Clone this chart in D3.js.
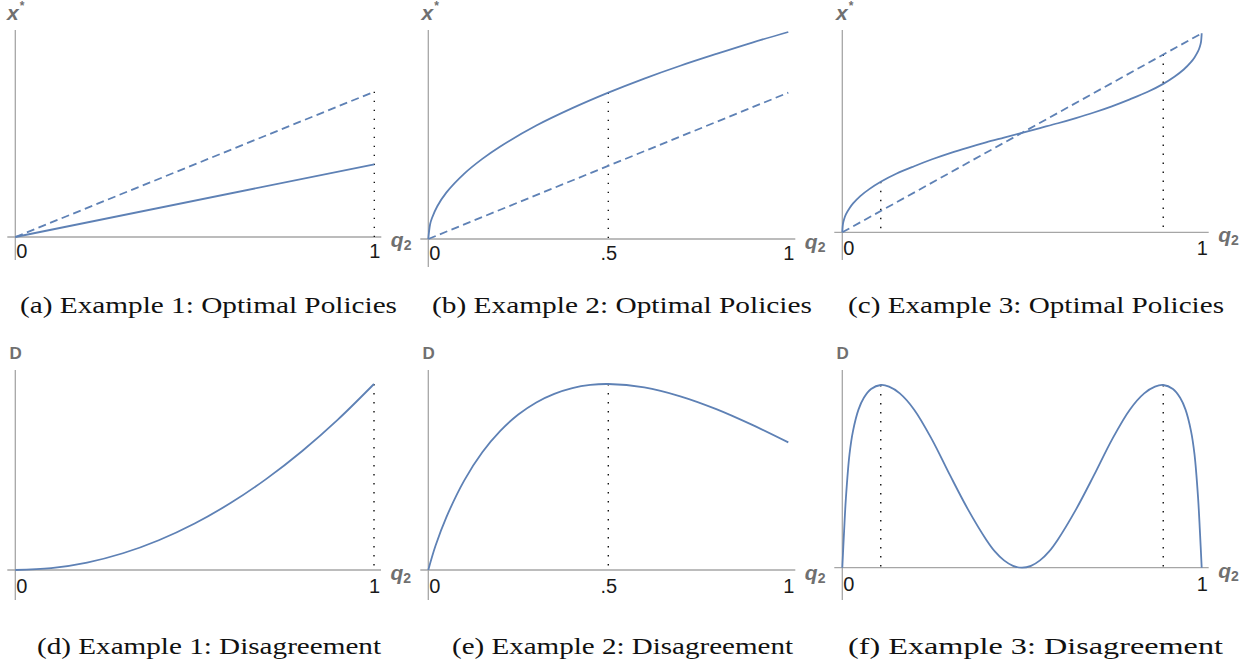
<!DOCTYPE html>
<html>
<head>
<meta charset="utf-8">
<script src="https://cdn.jsdelivr.net/npm/d3@7"></script>
<style>
  body { margin: 0; background: #fff; }
  svg { display: block; }
</style>
</head>
<body>
<div id="chart"></div>
<script>
// ---- data ----
// (a) example 1, policies
const qA = [0, 1]
const solidA = [0, 0.351]
const dashA = [0, 0.702]
// (b) example 2, policies
const qB = [0, 0.005, 0.01, 0.025, 0.05, 0.1, 0.15, 0.2, 0.3, 0.4, 0.5, 0.6, 0.7, 0.8, 0.9, 1]
const solidB = [0, 0.071, 0.1, 0.158, 0.224, 0.316, 0.387, 0.447, 0.548, 0.632, 0.707, 0.775, 0.837, 0.894, 0.949, 1]
const qBDash = [0, 1]
const dashB = [0, 0.707]
// (c) example 3, policies
const qC = [0, 0.002, 0.005, 0.01, 0.02, 0.03, 0.05, 0.075, 0.107, 0.15, 0.2, 0.25, 0.3, 0.35, 0.4, 0.45, 0.5,
            0.55, 0.6, 0.65, 0.7, 0.75, 0.8, 0.85, 0.893, 0.925, 0.95, 0.97, 0.98, 0.99, 0.995, 0.998, 1]
const solidC = [0, 0.044, 0.066, 0.09, 0.121, 0.145, 0.182, 0.217, 0.254, 0.294, 0.332, 0.367, 0.398, 0.426, 0.452, 0.476, 0.5,
                0.524, 0.548, 0.574, 0.602, 0.633, 0.668, 0.706, 0.746, 0.783, 0.818, 0.855, 0.879, 0.91, 0.934, 0.956, 1]
const qCDash = [0, 1]
const dashC = [0, 1]
// (d) example 1, disagreement
const qD = [0, 0.1, 0.2, 0.3, 0.4, 0.5, 0.6, 0.7, 0.8, 0.9, 1]
const disD = [0, 0.01, 0.04, 0.09, 0.16, 0.25, 0.36, 0.49, 0.64, 0.81, 1]
// (e) example 2, disagreement
const qE = [0, 0.02, 0.05, 0.1, 0.15, 0.2, 0.25, 0.3, 0.35, 0.4, 0.45, 0.5, 0.6, 0.7, 0.8, 0.9, 1]
const disE = [0, 0.13, 0.283, 0.482, 0.633, 0.748, 0.836, 0.901, 0.947, 0.978, 0.995, 1, 0.982, 0.934, 0.865, 0.78, 0.686]
// (f) example 3, disagreement
const qF = [0, 0.005, 0.01, 0.02, 0.03, 0.045, 0.06, 0.08, 0.107, 0.13, 0.16, 0.2, 0.25, 0.3, 0.35, 0.4, 0.425, 0.45, 0.475, 0.5,
            0.525, 0.55, 0.575, 0.6, 0.65, 0.7, 0.75, 0.8, 0.84, 0.87, 0.893, 0.92, 0.94, 0.955, 0.97, 0.98, 0.99, 0.995, 1]
const disF = [0, 0.2, 0.38, 0.62, 0.75, 0.865, 0.93, 0.978, 1, 0.991, 0.954, 0.865, 0.7, 0.505, 0.318, 0.155, 0.088, 0.04, 0.01, 0,
              0.01, 0.04, 0.088, 0.155, 0.318, 0.505, 0.7, 0.865, 0.954, 0.991, 1, 0.978, 0.93, 0.865, 0.75, 0.62, 0.38, 0.2, 0]

// dotted guide lines: where and how high
const dotQA = [1], dotTopA = [0.702]
const dotQB = [0.5], dotTopB = [0.707]
const dotQC = [0.107, 0.893], dotTopC = [0.254, 0.893]
const dotQD = [1], dotTopD = [1]
const dotQE = [0.5], dotTopE = [1]
const dotQF = [0.107, 0.893], dotTopF = [1, 1]

// tick labels
const ticks01 = [0, 1]
const tickLabels01 = ['0', '1']
const ticksHalf = [0, 0.5, 1]
const tickLabelsHalf = ['0', '.5', '1']

const captions = [
  '(a) Example 1: Optimal Policies', '(b) Example 2: Optimal Policies', '(c) Example 3: Optimal Policies',
  '(d) Example 1: Disagreement', '(e) Example 2: Disagreement', '(f) Example 3: Disagreement'
]

// ---- style ----
const blue = '#5e81b5'
const axisColor = '#a6a6a6'
const labelColor = '#707070'
const sans = 'Liberation Sans, Arial, sans-serif'
const serif = 'Liberation Serif, Times New Roman, serif'

const svg = d3.select('#chart').append('svg')
    .attr('width', 1250).attr('height', 671)

//panelen met pixelposities
const panels = [
  {x0: 15.3, x1: 374.3, y0: 237, y1: 30, yTop: 30, yBot: 260, tickDy: 21, ylab: 'x', ylabX: 7, ylabY: 20,
   lines: [[qA, solidA, false], [qA, dashA, true]], dotQ: dotQA, dotTop: dotTopA, ticks: ticks01, tickLabels: tickLabels01,
   cap: captions[0], capX: 208.5, capY: 312.5, capW: 377},
  {x0: 428.3, x1: 788.3, y0: 239, y1: 32, yTop: 30, yBot: 267, tickDy: 21, ylab: 'x', ylabX: 421.5, ylabY: 19.5,
   lines: [[qB, solidB, false], [qBDash, dashB, true]], dotQ: dotQB, dotTop: dotTopB, ticks: ticksHalf, tickLabels: tickLabelsHalf,
   cap: captions[1], capX: 622, capY: 312.5, capW: 380},
  {x0: 842.3, x1: 1201.7, y0: 232.3, y1: 33.3, yTop: 30, yBot: 260, tickDy: 22.5, ylab: 'x', ylabX: 836, ylabY: 20,
   lines: [[qC, solidC, false], [qCDash, dashC, true]], dotQ: dotQC, dotTop: dotTopC, ticks: ticks01, tickLabels: tickLabels01,
   cap: captions[2], capX: 1036, capY: 312.5, capW: 376},
  {x0: 15.3, x1: 374, y0: 570, y1: 384, yTop: 370, yBot: 600, tickDy: 23, ylab: 'D', ylabX: 9.5, ylabY: 359,
   lines: [[qD, disD, false]], dotQ: dotQD, dotTop: dotTopD, ticks: ticks01, tickLabels: tickLabels01,
   cap: captions[3], capX: 209, capY: 653.5, capW: 344},
  {x0: 428.3, x1: 788.3, y0: 570, y1: 384, yTop: 370, yBot: 600, tickDy: 23, ylab: 'D', ylabX: 422.5, ylabY: 359,
   lines: [[qE, disE, false]], dotQ: dotQE, dotTop: dotTopE, ticks: ticksHalf, tickLabels: tickLabelsHalf,
   cap: captions[4], capX: 622.5, capY: 653.5, capW: 341},
  {x0: 842.3, x1: 1201.7, y0: 567.7, y1: 385, yTop: 370, yBot: 600, tickDy: 23, ylab: 'D', ylabX: 836.5, ylabY: 359,
   lines: [[qF, disF, false]], dotQ: dotQF, dotTop: dotTopF, ticks: ticks01, tickLabels: tickLabels01,
   cap: captions[5], capX: 1035.5, capY: 653.5, capW: 375}
]

function drawPanel(p) {
  const x = d3.scaleLinear().domain([0, 1]).range([p.x0, p.x1])
  const y = d3.scaleLinear().domain([0, 1]).range([p.y0, p.y1])
  const g = svg.append('g')

  //assen
  g.append('line')
      .attr('x1', p.x0 - 8).attr('x2', p.x1 + 7)
      .attr('y1', p.y0).attr('y2', p.y0)
      .attr('stroke', axisColor).attr('stroke-width', 1.3)
  g.append('line')
      .attr('x1', p.x0).attr('x2', p.x0)
      .attr('y1', p.yTop).attr('y2', p.yBot)
      .attr('stroke', axisColor).attr('stroke-width', 1.3)

  const xAxis = d3.axisBottom(x)
      .tickValues(p.ticks)
      .tickFormat((d, i) => p.tickLabels[i])
      .tickSize(0)
  const xAxisG = g.append('g')
      .attr('transform', `translate(0, ${p.y0})`)
      .call(xAxis)
  xAxisG.select('.domain').remove()
  xAxisG.selectAll('text')
      .attr('y', p.tickDy).attr('dy', null)
      .style('font-family', sans).style('font-size', '20px')
      .attr('fill', '#1a1a1a')
      .attr('text-anchor', d => d === 0 ? 'start' : 'middle')
      .attr('x', d => d === 0 ? 0.5 : 0)

  //gestippelde hulplijnen
  g.selectAll('.guide')
      .data(d3.zip(p.dotQ, p.dotTop))
      .enter().append('line')
      .attr('x1', d => x(d[0])).attr('x2', d => x(d[0]))
      .attr('y1', d => y(d[1])).attr('y2', y(0))
      .attr('stroke', '#111').attr('stroke-width', 1.4)
      .attr('stroke-dasharray', '1.4,7.6')

  const line = d3.line()
      .x(d => x(d[0]))
      .y(d => y(d[1]))
      .curve(d3.curveCatmullRom.alpha(0.5))

  p.lines.forEach(([qs, vs, dashed]) => {
    g.append('path')
        .datum(d3.zip(qs, vs))
        .attr('d', line)
        .attr('fill', 'none')
        .attr('stroke', blue)
        .attr('stroke-width', 1.8)
        .attr('stroke-dasharray', dashed ? '8,4.5' : null)
  })

  //aslabels
  const yl = g.append('text')
      .attr('x', p.ylabX).attr('y', p.ylabY)
      .style('font-family', sans).style('font-weight', 'bold')
      .attr('fill', labelColor)
  if (p.ylab === 'x') {
    yl.style('font-size', '21px').style('font-style', 'italic').text('x')
    yl.append('tspan').attr('dx', 1).attr('dy', -10).style('font-size', '12px').style('font-style', 'normal').text('*')
  } else {
    yl.style('font-size', '17px').text('D')
  }

  const ql = g.append('text')
      .attr('x', p.x1 + 16.5).attr('y', p.y0 + 10)
      .style('font-family', sans).style('font-weight', 'bold')
      .style('font-style', 'italic').style('font-size', '21px')
      .attr('fill', labelColor)
      .text('q')
  ql.append('tspan').attr('dy', 3).style('font-size', '14px').style('font-style', 'normal').text('2')

  //onderschrift
  svg.append('text')
      .attr('x', p.capX).attr('y', p.capY)
      .attr('text-anchor', 'middle')
      .style('font-family', serif).style('font-size', '23px')
      .attr('fill', '#111')
      .attr('textLength', p.capW).attr('lengthAdjust', 'spacingAndGlyphs')
      .text(p.cap)
}

panels.forEach(drawPanel)
</script>
</body>
</html>
